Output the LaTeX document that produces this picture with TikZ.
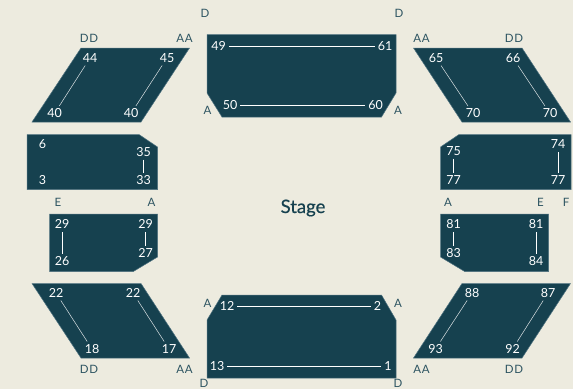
\documentclass[tikz,border=0pt]{standalone}
\usepackage{fontspec}
\setmainfont{Lato}
\newfontfamily\stagefont[FakeBold=0.5]{Lato}
\newfontfamily\rowfont[LetterSpace=6]{Lato}
\usetikzlibrary{backgrounds}
\definecolor{paper}{HTML}{EDEBDF}
\definecolor{petrol}{HTML}{16414F}
\definecolor{edge}{HTML}{4F7280}
\tikzset{
  block/.style={fill=petrol, draw=edge, line width=0.5pt},
  seat/.style={text=white, inner sep=3pt, text height=8.6pt, text depth=0pt, font=\fontsize{12.5}{13}\selectfont},
  rowlab/.style={text=petrol!90, inner sep=1pt, font=\rowfont\fontsize{11.5}{12}\selectfont},
  aisle/.style={white, line width=1pt},
  rake/.style={white!85!petrol, line width=0.5pt},
}
\begin{document}
\begin{tikzpicture}[x=1pt,y=-1pt]
  \useasboundingbox (0,0) rectangle (573,389);
  \fill[paper] (0,0) rectangle (573,389);

  % seating blocks, upper half
  \path[block] (81,48) -- (189.5,48) -- (141,122) -- (32,122) -- cycle;
  \path[block] (207,34.5) -- (396,34.5) -- (396,93) -- (381.5,117) -- (222,117) -- (207,93) -- cycle;
  \path[block] (413.5,48) -- (522,48) -- (570.5,122) -- (462,122) -- cycle;
  \path[block] (27,134.5) -- (139,134.5) -- (157.5,147) -- (157.5,189.5) -- (27,189.5) -- cycle;
  \path[block] (459,134.5) -- (571,134.5) -- (571,189.5) -- (440.5,189.5) -- (440.5,147) -- cycle;
  % seating blocks, lower half
  \path[block] (49.5,214) -- (157.5,214) -- (157.5,257) -- (133,271.7) -- (49.5,271.7) -- cycle;
  \path[block] (440.5,214) -- (548.7,214) -- (548.7,271.7) -- (465,271.7) -- (440.5,257) -- cycle;
  \path[block] (32,283.5) -- (141,283.5) -- (189.5,358) -- (81,358) -- cycle;
  \path[block] (222,295) -- (381.5,295) -- (396,320) -- (396,378) -- (207,378) -- (207,320) -- cycle;
  \path[block] (462,283.5) -- (570.5,283.5) -- (522,358) -- (413.5,358) -- cycle;

  \node[text=petrol, font=\stagefont\fontsize{18.5}{20}\selectfont] (stage) at (303,208) {Stage};

  % row letters
  \foreach \lname/\px/\py/\txt in {
    la/89/38/DD, lb/184.5/38/AA, lc/205/13.5/D, ld/207.5/110/A, le/399/13.5/D, lf/398/110/A,
    lg/421.5/38/AA, lh/514/38/DD, li/58/202.5/E, lj/151.5/202.5/A, lk/448/202.5/A, ll/540.5/202.5/E,
    lm/566/202.5/F, ln/89/369/DD, lo/184.5/369/AA, lp/207.5/303/A, lq/204/383.5/D, lr/398/303/A,
    ls/398/383.5/D, lt/421.5/369/AA, lu/514/369/DD}
    \node[rowlab] (\lname) at (\px,\py) {\txt};

  % seat numbers
  \foreach \sname/\px/\py/\txt in {
    sa/90/58/44, sb/54.5/113.5/40, sc/167/58/45, sd/131/113.5/40,
    se/218.5/46.5/49, sf/385/46.5/61, sg/230/105.5/50, sh/375.5/105.5/60,
    si/436/58/65, sj/473/113.5/70, sk/513/58/66, sl/550/113.5/70,
    sm/42.5/144.5/6, sn/42.5/180.5/3, so/143.5/152/35, sp/143.5/180.5/33,
    sq/453.5/151/75, sr/453.5/180.5/77, ss/558/144.5/74, st/558/180.5/77,
    su/62/224.5/29, sv/62/261/26, sw/145.5/224.5/29, sx/145.5/253/27,
    sy/453.5/224.5/81, sz/453.5/253/83, ta/536/224.5/81, tb/536/261/84,
    tc/56/293/22, td/92/349/18, te/133/293/22, tf/169/349/17,
    tg/227/306.5/12, th/377.5/306.5/2, ti/217/366.5/13, tj/388/366.5/1,
    tk/472/293/88, tl/435.5/349/93, tm/548/293/87, tn/512.5/349/92}
    \node[seat] (\sname) at (\px,\py) {\txt};

  % aisle lines
  \foreach \from/\to in {se/sf, sg/sh, so/sp, sq/sr, ss/st, su/sv, sw/sx, sy/sz, ta/tb, tg/th, ti/tj}
    \draw[aisle] (\from) -- (\to);
  \foreach \from/\to in {sa/sb, sc/sd, si/sj, sk/sl, tc/td, te/tf, tk/tl, tm/tn}
    \draw[rake] (\from) -- (\to);
\end{tikzpicture}
\end{document}
